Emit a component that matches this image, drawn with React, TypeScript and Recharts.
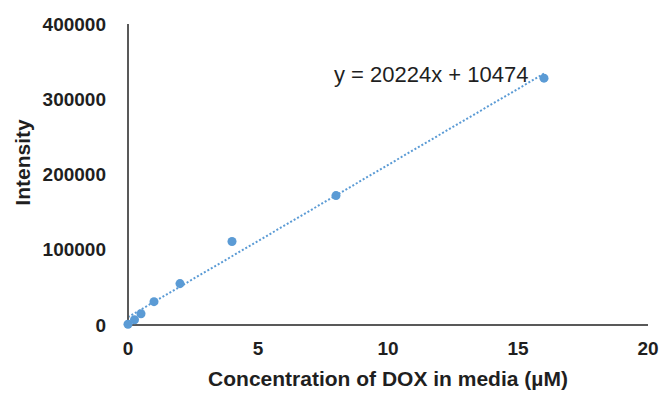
import React from 'react';
import { XAxis, YAxis, Line, Scatter, ComposedChart, Label } from 'recharts';

const concentrations = [0, 0.25, 0.5, 1, 2, 4, 8, 16];
const intensities = [1000, 7000, 15000, 31000, 55000, 111000, 172000, 328000];
const trendX = [0, 16];
const trendY = [10474, 334058];
const xTicks = [0, 5, 10, 15, 20];
const yTicks = [0, 100000, 200000, 300000, 400000];
const equationLabel = 'y = 20224x + 10474';

const points = concentrations.map((x, i) => ({ x, y: intensities[i] }));
const trend = trendX.map((x, i) => ({ x, y: trendY[i] }));

const BLUE = '#5b9bd5';
const TEXT = '#1f1f1f';
const FONT = 'Liberation Sans, Arial, sans-serif';

const YLabel = (props: any) => {
  const vb = props.viewBox || {};
  const cx = 22;
  const cy = (vb.y ?? 24) + (vb.height ?? 301) / 2 - 12;
  return (
    <text
      x={cx}
      y={cy}
      transform={`rotate(-90 ${cx} ${cy})`}
      textAnchor="middle"
      dominantBaseline="central"
      fill={TEXT}
      fontSize={21}
      fontWeight="bold"
      fontFamily={FONT}
    >
      Intensity
    </text>
  );
};

export default function App() {
  return (
    <div style={{ position: 'absolute', left: 0, top: 0, width: 663, height: 394, background: '#fff' }}>
      <ComposedChart width={663} height={394} margin={{ top: 24, right: 15, left: 0, bottom: 0 }}>
        <XAxis
          type="number"
          dataKey="x"
          domain={[0, 20]}
          ticks={xTicks}
          tickLine={false}
          axisLine={{ stroke: '#595959', strokeWidth: 2 }}
          tick={{ fill: TEXT, fontSize: 19, fontWeight: 'bold', fontFamily: FONT }}
          tickMargin={11}
          height={69}
          label={{ value: 'Concentration of DOX in media (µM)', position: 'insideBottom', offset: 8, fill: TEXT, fontSize: 21, fontWeight: 'bold', fontFamily: FONT }}
        />
        <YAxis
          type="number"
          dataKey="y"
          domain={[0, 400000]}
          ticks={yTicks}
          tickLine={false}
          axisLine={{ stroke: '#595959', strokeWidth: 2 }}
          tick={{ fill: TEXT, fontSize: 19, fontWeight: 'bold', fontFamily: FONT }}
          tickMargin={16}
          width={128}
        >
          <Label content={YLabel} />
        </YAxis>
        <Line
          data={trend}
          dataKey="y"
          type="linear"
          stroke={BLUE}
          strokeWidth={2}
          strokeDasharray="2 2"
          dot={false}
          isAnimationActive={false}
        />
        <Scatter data={points} dataKey="y" fill={BLUE} isAnimationActive={false} shape="circle" />
      </ComposedChart>
      <div style={{ position: 'absolute', left: 334, top: 62, fontFamily: FONT, fontSize: 22, color: TEXT, whiteSpace: 'pre', lineHeight: '26px' }}>
        {equationLabel}
      </div>
    </div>
  );
}
